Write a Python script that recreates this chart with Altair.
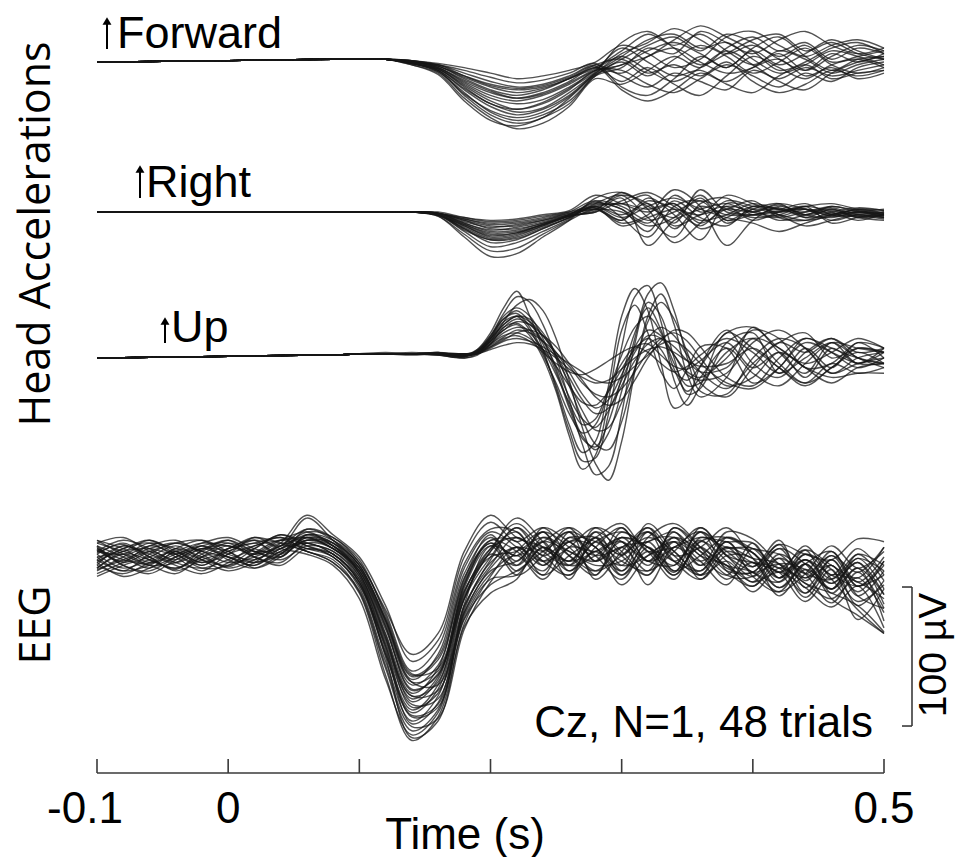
import altair as alt
import pandas as pd

# ---------------- data ----------------
TIME = [-0.10, -0.08, -0.06, -0.04, -0.02, 0.00, 0.02, 0.04, 0.06, 0.08, 0.10,
        0.12, 0.14, 0.16, 0.18, 0.20, 0.22, 0.24, 0.26, 0.28, 0.30, 0.32, 0.34,
        0.36, 0.38, 0.40, 0.42, 0.44, 0.46, 0.48, 0.50]
PRE_TIME = TIME[:9]
ACC_TIME = TIME[9:]
UP_TIME = [0.08, 0.10, 0.12, 0.14, 0.16, 0.18, 0.19, 0.20, 0.21, 0.22, 0.23,
           0.24, 0.25, 0.26, 0.27, 0.28, 0.29, 0.30, 0.31, 0.32, 0.33, 0.34,
           0.35, 0.36, 0.38, 0.40, 0.42, 0.44, 0.46, 0.48, 0.50]

TICKS = [-0.1, 0.0, 0.1, 0.2, 0.3, 0.4, 0.5]
TICK_LABELS = ["-0.1", "0", "", "", "", "", "0.5"]

# common pre-movement segment of the head accelerations (all trials overlap)
FORWARD_PRE = [0, 0.2, 0.4, 0.6, 0.8, 1.0, 1.3, 1.6, 1.8]
RIGHT_PRE = [0, 0, 0, 0, 0, 0, 0, 0, 0]
UP_PRE = [0, 0.2, 0.4, 0.6, 0.9, 1.2, 1.5, 1.8, 2.0]

FORWARD_TRIALS = [
    [2, 2, 2, 0, -4, -15, -24, -28, -24, -16, -6, -2, 8, 14, 6, -4, 10, 18, 4, -6, 2, 4],
    [2, 2, 2, -1, -6, -20, -32, -38, -34, -24, -8, 4, 16, 20, 10, 14, 2, -8, -2, 8, 4, -2],
    [2, 2, 2, 1, -2, -8, -14, -18, -16, -10, -2, -10, -18, -8, -14, -20, -6, -12, -4, -10, -6, -2],
    [2, 2, 2, -2, -8, -26, -40, -48, -44, -32, -12, -16, -6, 4, -4, 10, 18, 8, 14, 2, 10, 6],
    [2, 2, 2, 0, -3, -12, -20, -24, -20, -12, -4, 8, 20, 12, 20, 8, -2, 6, -6, 4, 12, 8],
    [2, 2, 2, -1, -5, -17, -28, -34, -30, -20, -6, -6, -16, -22, -12, -2, -10, -18, -8, -14, -4, 0],
    [2, 2, 2, 1, -1, -4, -8, -12, -10, -6, 0, 12, 6, -4, 2, 18, 22, 12, 4, 12, 16, 10],
    [2, 2, 2, -1, -7, -22, -36, -42, -38, -28, -10, 0, -10, 2, 12, 4, -8, 0, 10, -2, -8, -4],
    [2, 2, 2, 0, -4, -14, -22, -26, -22, -14, -4, -14, -4, -16, -24, -10, 4, -4, -12, -2, 2, -4],
    [2, 2, 2, -1, -6, -19, -30, -36, -33, -22, -8, 6, 14, 24, 16, 6, 12, 2, -6, 6, 0, 6],
    [2, 2, 2, 0, -2, -10, -17, -20, -18, -12, -2, 2, -8, -2, -10, 0, -14, -22, -16, -6, -10, -6],
    [2, 2, 2, -2, -9, -28, -42, -46, -40, -30, -10, -4, 10, 6, 22, 14, 6, 16, 22, 12, 6, 10],
    [2, 2, 2, 0, -3, -11, -18, -22, -19, -12, -4, -8, 4, 10, 0, -8, -4, 8, 2, -8, -2, 2],
    [2, 2, 2, -1, -5, -16, -26, -30, -27, -18, -6, 10, 0, -10, -6, -16, -22, -10, -2, -12, -8, -6],
    [2, 2, 2, 1, -2, -6, -11, -15, -13, -8, -1, -18, -24, -12, 4, -4, 8, -2, 6, 16, 8, 2],
    [2, 2, 2, -1, -6, -24, -38, -44, -40, -26, -9, 2, 12, 18, 8, 20, 14, 4, 12, 0, 4, 8],
    [2, 2, 2, 0, -5, -18, -30, -34, -29, -19, -7, 14, 22, 10, -2, 6, 16, 20, 8, 14, 6, 2],
    [2, 2, 2, 1, -3, -10, -16, -19, -17, -11, -3, -20, -28, -20, -8, -14, -4, 2, -10, -4, -12, -8],
    [2, 2, 2, -1, -7, -23, -35, -40, -36, -25, -9, -2, 4, 16, 26, 18, 8, -6, 0, 10, 14, 6],
    [2, 2, 2, 0, -4, -13, -21, -26, -23, -15, -5, 4, -6, -14, -4, 8, -2, -14, -20, -8, 0, 4],
]

RIGHT_TRIALS = [
    [0, 0, 0, 0, -1, -8, -13, -11, -7, -2, 3, -6, 8, 2, -10, 4, 0, -3, 2, -1, 1, -2],
    [0, 0, 0, 0, -2, -12, -22, -20, -12, -4, 6, 12, -4, -18, 6, 10, -2, 3, -4, 2, -3, 0],
    [0, 0, 0, 0, -1, -5, -9, -8, -5, -1, 2, 0, -10, -4, 12, -6, 2, -2, -6, -3, 0, -4],
    [0, 0, 0, 0, -3, -18, -32, -30, -18, -6, 10, 14, 2, -22, -8, 8, 4, 0, 2, -6, -2, -3],
    [0, 0, 0, 0, 0, -4, -7, -6, -3, 0, 4, -4, 4, 10, 2, -4, -8, -14, -8, -2, 2, 1],
    [0, 0, 0, 0, -2, -10, -17, -15, -9, -3, 0, 8, 14, 4, -6, -2, 6, 2, 0, 3, -2, -4],
    [0, 0, 0, 0, -1, -6, -12, -12, -8, -3, 2, -8, -2, 16, 4, -24, -6, 4, -2, 1, -4, -2],
    [0, 0, 0, 0, -2, -14, -25, -22, -14, -5, 8, 4, -6, 0, 8, 2, -4, -2, 4, 0, -6, -1],
    [0, 0, 0, 0, -1, -7, -11, -9, -6, -2, 0, 10, -24, -6, 2, 6, 0, 5, -2, -4, 0, -3],
    [0, 0, 0, 0, -2, -9, -15, -14, -9, -3, 4, -2, 6, -8, 16, 0, -2, -4, 0, 4, 1, -2],
    [0, 0, 0, 0, -1, -4, -6, -5, -2, 1, 12, 6, 0, 6, -12, -4, 4, 2, 6, -2, -3, -5],
    [0, 0, 0, 0, -3, -16, -28, -26, -16, -6, 2, -6, 10, -2, -20, 6, 2, -6, -2, 2, -4, -6],
    [0, 0, 0, 0, -1, -8, -14, -13, -8, -2, 6, 2, -14, 12, 0, 4, -6, 0, 4, 6, 2, -1],
    [0, 0, 0, 0, -2, -11, -19, -17, -10, -3, 1, 14, 4, -4, 10, -8, 2, 6, -4, -2, 0, 2],
    [0, 0, 0, 0, -1, -6, -10, -10, -6, -1, 3, -10, -4, 2, -2, 12, 6, -2, -10, -6, -2, -4],
    [0, 0, 0, 0, -2, -13, -20, -18, -11, -4, 5, 6, 12, -12, 4, -2, -2, 1, 2, -3, -1, 0],
    [0, 0, 0, 0, -1, -9, -16, -15, -9, -2, 7, 2, -8, 8, -4, -10, 4, 2, -2, 4, 0, -2],
    [0, 0, 0, 0, -2, -12, -20, -19, -12, -4, 2, 12, 6, -10, -2, 2, 8, -4, -6, 0, 3, 1],
    [0, 0, 0, 0, -1, -5, -8, -7, -4, 0, 8, -4, -18, 4, 8, -6, -2, 0, 4, -8, -4, -2],
    [0, 0, 0, 0, -2, -10, -18, -16, -10, -3, 4, 6, 2, 6, -8, 2, 0, 6, 2, -2, 2, -1],
]

UP_TRIALS = [
    [2, 3, 3, 3, 3, 1, 4, 12, 22, 25, 18, 6, -12, -32, -48, -44, -22, -4, 8, 10, 2, -6, -8, -2, 11, -7, 4, -14, 7, -4, 4],
    [2, 3, 3, 3, 4, 2, 5, 16, 32, 44, 40, 24, 0, -30, -62, -84, -78, -40, 10, 40, 30, 0, -26, -22, 11, 18, -11, 7, -7, 11, 0],
    [2, 3, 3, 3, 3, 3, 3, 6, 9, 11, 10, 6, 0, -8, -14, -18, -16, -8, 0, 6, 8, 4, -2, -6, -4, 7, -7, -18, -4, -11, -7],
    [2, 3, 3, 3, 2, 0, 3, 14, 28, 32, 22, 4, -20, -48, -68, -60, -20, 30, 50, 34, -4, -36, -30, -6, 20, -4, -14, 4, 14, 4, 7],
    [2, 3, 3, 3, 3, 2, 5, 14, 24, 30, 26, 16, 2, -14, -30, -40, -36, -20, -2, 10, 14, 8, -2, -10, -7, 14, 7, -7, -18, -7, -4],
    [2, 3, 3, 3, 4, 3, 4, 12, 26, 38, 42, 34, 14, -16, -50, -76, -88, -60, -10, 30, 46, 24, -12, -28, -14, 22, 4, -11, 11, -4, 7],
    [2, 3, 3, 3, 3, 3, 4, 8, 14, 16, 12, 4, -4, -10, -12, -8, -2, 4, 8, 4, -4, -10, -6, 2, 14, 4, -11, 0, 11, 0, -7],
    [2, 3, 3, 3, 3, 1, 6, 18, 36, 48, 30, 6, -22, -52, -74, -72, -40, 8, 44, 52, 26, -16, -34, -20, 18, 7, -7, -20, -7, 4, -4],
    [2, 3, 3, 3, 3, 2, 3, 10, 18, 22, 20, 12, 0, -18, -38, -52, -50, -32, -8, 14, 22, 16, 2, -10, -22, -4, 11, 18, 0, 7, 4],
    [2, 3, 3, 3, 3, 2, 4, 10, 16, 18, 14, 6, -6, -20, -32, -34, -24, -8, 6, 14, 6, -10, -16, -6, 18, 22, 7, -4, 4, 14, 7],
    [2, 3, 3, 3, 2, 1, 5, 15, 30, 36, 30, 14, -8, -34, -56, -66, -54, -24, 14, 46, 54, 34, 0, -24, -26, 0, 14, 7, -11, -4, 0],
    [2, 3, 3, 3, 3, 3, 4, 9, 15, 20, 18, 12, 4, -6, -18, -26, -28, -22, -10, 4, 14, 18, 12, 0, -20, -14, 4, -7, -14, -11, -11],
    [2, 3, 3, 3, 3, 2, 6, 16, 28, 34, 26, 10, -10, -36, -58, -64, -46, -14, 18, 36, 20, -8, -24, -14, 7, -11, -20, -4, 11, 7, 4],
    [2, 3, 3, 3, 3, 2, 3, 7, 12, 14, 12, 8, 2, -4, -10, -16, -18, -14, -6, 2, 10, 12, 6, -4, -18, -22, -7, 11, 4, -4, -4],
    [2, 3, 3, 3, 2, 0, 2, 10, 22, 28, 24, 12, -6, -28, -44, -50, -38, -16, 4, 16, 14, 2, -10, -14, 0, 20, 14, -7, -4, 11, 7],
    [2, 3, 3, 3, 3, 1, 4, 13, 24, 30, 28, 18, 2, -20, -44, -62, -66, -46, -8, 26, 40, 28, 4, -18, -28, -7, 11, 4, 14, 0, -4],
    [2, 3, 3, 4, 3, 2, 5, 12, 20, 26, 24, 16, 4, -10, -26, -36, -30, -12, 8, 20, 16, 2, -12, -16, -11, 11, 20, 7, -11, 0, 4],
    [2, 3, 3, 2, 3, 1, 4, 11, 20, 24, 16, 0, -24, -56, -80, -70, -30, 20, 38, 18, -10, -22, -8, 8, 7, -18, -7, 14, 4, -7, 0],
    [2, 3, 4, 3, 3, 2, 3, 8, 13, 18, 20, 16, 8, -4, -16, -28, -34, -30, -16, 0, 12, 20, 18, 8, -14, -20, 0, 14, 7, 0, -4],
    [2, 3, 3, 3, 4, 2, 5, 14, 26, 30, 20, 2, -18, -40, -54, -48, -24, 2, 22, 30, 18, -4, -20, -18, 4, 14, -4, -18, -7, 7, 4],
]

# EEG at Cz in µV, one row per trial, sampled at TIME
EEG_TRIALS = [
    [5, -3, 8, 2, -6, 4, 10, 3, 14, 8, -10, -55, -98, -80, -15, 10, 1, 18, -10, 11, 2, 21, -3, 12, -8, -11, 9, -17, 1, -21, -6],
    [-8, 2, -5, 6, 0, -7, 3, 12, 6, 0, -20, -70, -112, -95, -30, 0, 21, 1, 11, -13, 14, -3, 18, -6, 6, 3, -18, -2, -19, -4, -27],
    [2, 10, 0, -9, 5, 12, 2, 8, 20, 12, -6, -45, -88, -70, -8, 18, 7, -10, 14, 1, -16, 7, -11, 21, 1, -14, -1, -26, -6, -35, -17],
    [-12, -4, 4, -2, 8, 0, -6, 6, 10, 2, -18, -66, -120, -105, -40, -10, -3, 11, -16, 18, 4, -13, 11, -3, -20, 6, -8, 5, -26, -8, -46],
    [8, 0, -8, 4, -4, 6, 12, 0, 16, 10, -8, -50, -95, -85, -25, 6, 24, 7, -3, 14, -10, 18, 1, 7, 21, -1, -22, -5, 4, -18, 0],
    [-4, 6, 10, 0, -10, 2, 8, 14, 4, -2, -25, -80, -125, -110, -45, -20, -10, 4, 18, -3, 11, -6, 14, -13, -3, -18, 2, -12, -33, -11, -37],
    [0, -10, 2, 10, 4, -4, 0, 10, 30, 16, 0, -35, -75, -60, 0, 25, 11, 21, 1, -13, 18, 4, -16, 14, 7, 6, -11, 8, -13, 6, -13],
    [10, 4, -2, -8, 2, 10, 4, -2, 8, 4, -14, -60, -100, -90, -22, 8, -13, 1, 21, 7, -6, 24, 4, -10, 11, -7, 12, -22, -2, -28, -10],
    [-6, -12, -4, 6, 12, 4, -4, 4, 12, 6, -12, -58, -108, -98, -35, -6, 14, -3, -13, 7, 21, -3, 7, 18, -10, -21, -5, -9, -23, -1, -23],
    [4, 12, 6, -4, -8, -2, 6, 16, 10, 4, -16, -72, -130, -118, -50, -26, -16, 14, 4, -6, -3, 11, -10, 1, 14, 3, -15, 2, -16, -38, -55],
    [-10, 0, 8, 12, 2, -8, -2, 6, 18, 14, -4, -40, -82, -65, -5, 20, 18, -3, 7, 21, 1, -13, 21, 4, -6, -11, -25, -12, 8, -8, 4],
    [6, -6, -12, -2, 6, 8, 0, -6, 6, 0, -22, -75, -118, -100, -30, 2, -6, 21, 11, 1, 7, 18, -3, -16, 4, -4, -11, -32, -13, -18, -30],
    [-2, 8, 2, -6, -12, -4, 8, 12, 14, 6, -10, -52, -92, -78, -18, 12, 4, -13, 1, 14, 24, 4, 11, -6, 18, 13, -5, -15, -6, -25, -3],
    [12, 6, -4, 2, 10, 14, 6, 2, 12, 8, -8, -48, -90, -82, -28, 4, 28, 11, -10, 4, -13, 14, 24, 7, -13, -14, 6, -5, -23, 2, -17],
    [-14, -6, 0, 8, -2, -10, -4, 8, 4, -4, -26, -85, -132, -115, -48, -14, 7, -6, 14, 11, -3, -10, 4, 21, 1, -11, -18, 2, -9, -32, -20],
    [0, 4, 12, 4, -4, 2, 14, 8, 28, 12, -6, -44, -85, -72, -12, 14, -3, 18, -6, 1, 14, 7, -13, 11, -3, -25, -8, -19, -30, -15, -40],
    [6, -2, -6, -12, 0, 8, 2, 10, 6, 2, -18, -68, -110, -92, -26, 6, 14, 4, 18, -16, 4, 21, 1, -13, 14, 6, 2, -12, 1, -11, 7],
    [-8, 4, 6, 2, 8, -2, -8, 2, 14, 10, -12, -56, -104, -88, -20, 10, -10, 7, -3, 18, -6, 1, 14, 4, -16, -4, -28, -9, -19, -4, -34],
    [2, -8, -2, 4, -6, 6, 10, 14, 8, 0, -20, -64, -115, -108, -42, -12, 1, -16, 7, 4, 11, -20, 7, -3, 7, -1, -5, -29, -9, -45, -23],
    [10, 14, 4, -4, 4, 12, 4, 0, 16, 12, -4, -38, -70, -55, 4, 30, 14, 7, -6, 11, 18, 7, -6, 18, 4, -7, 9, 2, -2, 13, 11],
    [-4, -14, -8, 0, 6, 0, -6, 4, 10, 2, -16, -62, -102, -86, -24, 0, 4, 14, 1, -10, 7, 11, 18, 1, -6, -18, -11, -22, -36, -21, -51],
    [4, 2, 10, 6, -2, -6, 2, 12, 18, 8, -10, -50, -96, -84, -30, 4, 18, -6, 11, 7, -20, 1, 7, 14, 11, 10, -15, -2, -16, -1, -10],
    [-6, 8, 0, -10, -2, 4, 12, 6, 2, -6, -30, -88, -128, -112, -38, -4, 7, 1, -13, 14, 1, 18, -10, 7, -10, -11, 6, -15, 4, -21, -3],
    [8, -4, 4, 10, 12, 2, -2, 8, 14, 6, -8, -46, -86, -74, -16, 16, -6, 11, 4, -3, 21, -3, 11, -16, 1, -1, -22, -5, -23, -8, -27],
    [3, 9, -2, -8, 0, 6, 14, 10, 4, -4, -24, -78, -122, -116, -52, -18, 4, 18, 7, -10, 1, 14, 4, -13, 7, -11, -5, -19, -26, -35, -54],
    [-9, -2, 6, 10, 4, 0, -4, 2, 20, 14, -2, -42, -84, -80, -20, 12, 11, -13, 18, 7, -10, 11, 14, 1, -13, 10, -15, 5, -6, -15, 7],
    [7, -6, -10, 0, 8, 10, 0, -4, 10, 6, -14, -64, -106, -102, -36, -2, 21, 4, -6, 21, 11, -3, -6, 18, 1, -4, -8, -26, -2, -28, -37],
    [-3, 6, 12, 2, -8, -6, 6, 16, 8, 2, -18, -70, -114, -106, -34, 8, 1, 11, 21, -3, 7, -10, 21, 7, -6, -21, -1, -12, -16, 2, -6],
    [12, 2, -6, -4, 6, 4, -8, 0, 12, 10, -6, -46, -90, -92, -40, -8, 7, -3, 11, 14, -13, 4, -13, 11, 14, 3, -11, -2, -13, -21, -13],
    [-2, -10, -6, 4, 10, 8, 4, 6, 16, 8, -12, -58, -100, -96, -44, -16, -13, 7, -3, 4, 14, 7, -3, -10, 11, -14, -25, -5, -30, -42, -55],
]

SCALEBAR_UV = 100

# ---------------- layout ----------------
W, H = 787, 765                 # plot area
PX_PER_UNIT = 1.39              # 100 µV scale bar = 139 px
Y_MAX = H / PX_PER_UNIT
BASELINE = {"Forward": 511.5, "Right": 403.6, "Up": 298.6, "EEG": 155.4}
SCALEBAR_LO = 33.8

records = []


def add(channel, times, trials, pre_times=(), pre=()):
    for k, tr in enumerate(trials):
        ts = list(pre_times) + list(times)
        vs = list(pre) + list(tr)
        for t, v in zip(ts, vs):
            records.append({"trace": f"{channel}-{k}", "t": t,
                            "y": BASELINE[channel] + v})


add("Forward", ACC_TIME, FORWARD_TRIALS, PRE_TIME, FORWARD_PRE)
add("Right", ACC_TIME, RIGHT_TRIALS, PRE_TIME, RIGHT_PRE)
add("Up", UP_TIME, UP_TRIALS, PRE_TIME, UP_PRE)
add("EEG", TIME, EEG_TRIALS)
traces = pd.DataFrame(records)

XS = alt.Scale(domain=[TICKS[0], TICKS[-1]], nice=False, zero=False)
YS = alt.Scale(domain=[0, Y_MAX], nice=False, zero=False)
SANS = "Liberation Sans"
AXC = "#3a3a3a"
ONE = pd.DataFrame({"k": [0]})

lines = alt.Chart(traces).mark_line(
    interpolate="catmull-rom", strokeWidth=1.4, color="#161616", opacity=0.74
).encode(
    x=alt.X("t:Q", scale=XS, axis=None),
    y=alt.Y("y:Q", scale=YS, axis=None),
    detail="trace:N",
)

axis_line = alt.Chart(pd.DataFrame({"a": [TICKS[0]], "b": [TICKS[-1]]})).mark_rule(
    color=AXC, strokeWidth=1.6
).encode(x=alt.X("a:Q", scale=XS, axis=None), x2="b:Q", y=alt.value(H))

tick_rules = alt.Chart(pd.DataFrame({"t": TICKS})).mark_rule(
    color=AXC, strokeWidth=1.6
).encode(x=alt.X("t:Q", scale=XS, axis=None), y=alt.value(H - 14), y2=alt.value(H))

tick_df = pd.DataFrame({"t": TICKS, "label": TICK_LABELS})
tick_text = alt.Chart(tick_df).transform_filter("datum.t >= 0").mark_text(
    font=SANS, fontSize=44, align="center", baseline="alphabetic", color="#000"
).encode(x=alt.X("t:Q", scale=XS, axis=None), y=alt.value(815), text="label:N")
tick_text_neg = alt.Chart(tick_df).transform_filter("datum.t < 0").mark_text(
    font=SANS, fontSize=44, align="center", baseline="alphabetic", color="#000", dx=-12
).encode(x=alt.X("t:Q", scale=XS, axis=None), y=alt.value(815), text="label:N")

sb = pd.DataFrame({"lo": [SCALEBAR_LO], "hi": [SCALEBAR_LO + SCALEBAR_UV]})
sb_bar = alt.Chart(sb).mark_rule(color=AXC, strokeWidth=1.6).encode(
    x=alt.value(815), y=alt.Y("lo:Q", scale=YS, axis=None), y2="hi:Q")
sb_top = alt.Chart(sb).mark_rule(color=AXC, strokeWidth=1.6).encode(
    x=alt.value(805), x2=alt.value(815), y=alt.Y("hi:Q", scale=YS, axis=None))
sb_bot = alt.Chart(sb).mark_rule(color=AXC, strokeWidth=1.6).encode(
    x=alt.value(805), x2=alt.value(815), y=alt.Y("lo:Q", scale=YS, axis=None))


def label(s, x, y, size, font=SANS, angle=0, align="left", baseline="alphabetic"):
    return alt.Chart(pd.DataFrame({"s": [s]})).mark_text(
        font=font, fontSize=size, angle=angle, align=align, baseline=baseline,
        color="#000"
    ).encode(x=alt.value(x), y=alt.value(y), text="s:N")


def arrow(xc, top, bottom):
    shaft = alt.Chart(ONE).mark_rule(color="#000", strokeWidth=2).encode(
        x=alt.value(xc), y=alt.value(top + 6), y2=alt.value(bottom))
    head = alt.Chart(ONE).mark_point(
        shape="triangle-up", filled=True, size=80, color="#000", opacity=1
    ).encode(x=alt.value(xc), y=alt.value(top + 5))
    return [shaft, head]


texts = [
    label("Forward", 20, 40, 45),
    label("Right", 49, 189, 45),
    label("Up", 74, 334, 45),
    label("Cz, N=1, 48 trials", 776, 729, 44, align="right"),
    label("100 µV", 837, 647, 39, angle=270, align="center", baseline="middle"),
    label("Time (s)", 368, 841, 44, align="center"),
    label("Head Accelerations", -60, 226, 43, font="Open Sans", angle=270,
          align="center", baseline="middle"),
    label("EEG", -60, 617, 43, font="Open Sans", angle=270,
          align="center", baseline="middle"),
]
arrows = arrow(10, 8, 41) + arrow(43, 156, 190) + arrow(68, 308, 335)

chart = alt.layer(
    lines, axis_line, tick_rules, tick_text, tick_text_neg,
    sb_bar, sb_top, sb_bot, *texts, *arrows
).properties(
    width=W, height=H,
    padding={"left": 89, "top": 0, "right": 72, "bottom": 84},
    autosize=alt.AutoSizeParams(type="none"),
).configure_view(stroke=None)

chart.save("out.html", embed_options={"renderer": "svg", "actions": False})
